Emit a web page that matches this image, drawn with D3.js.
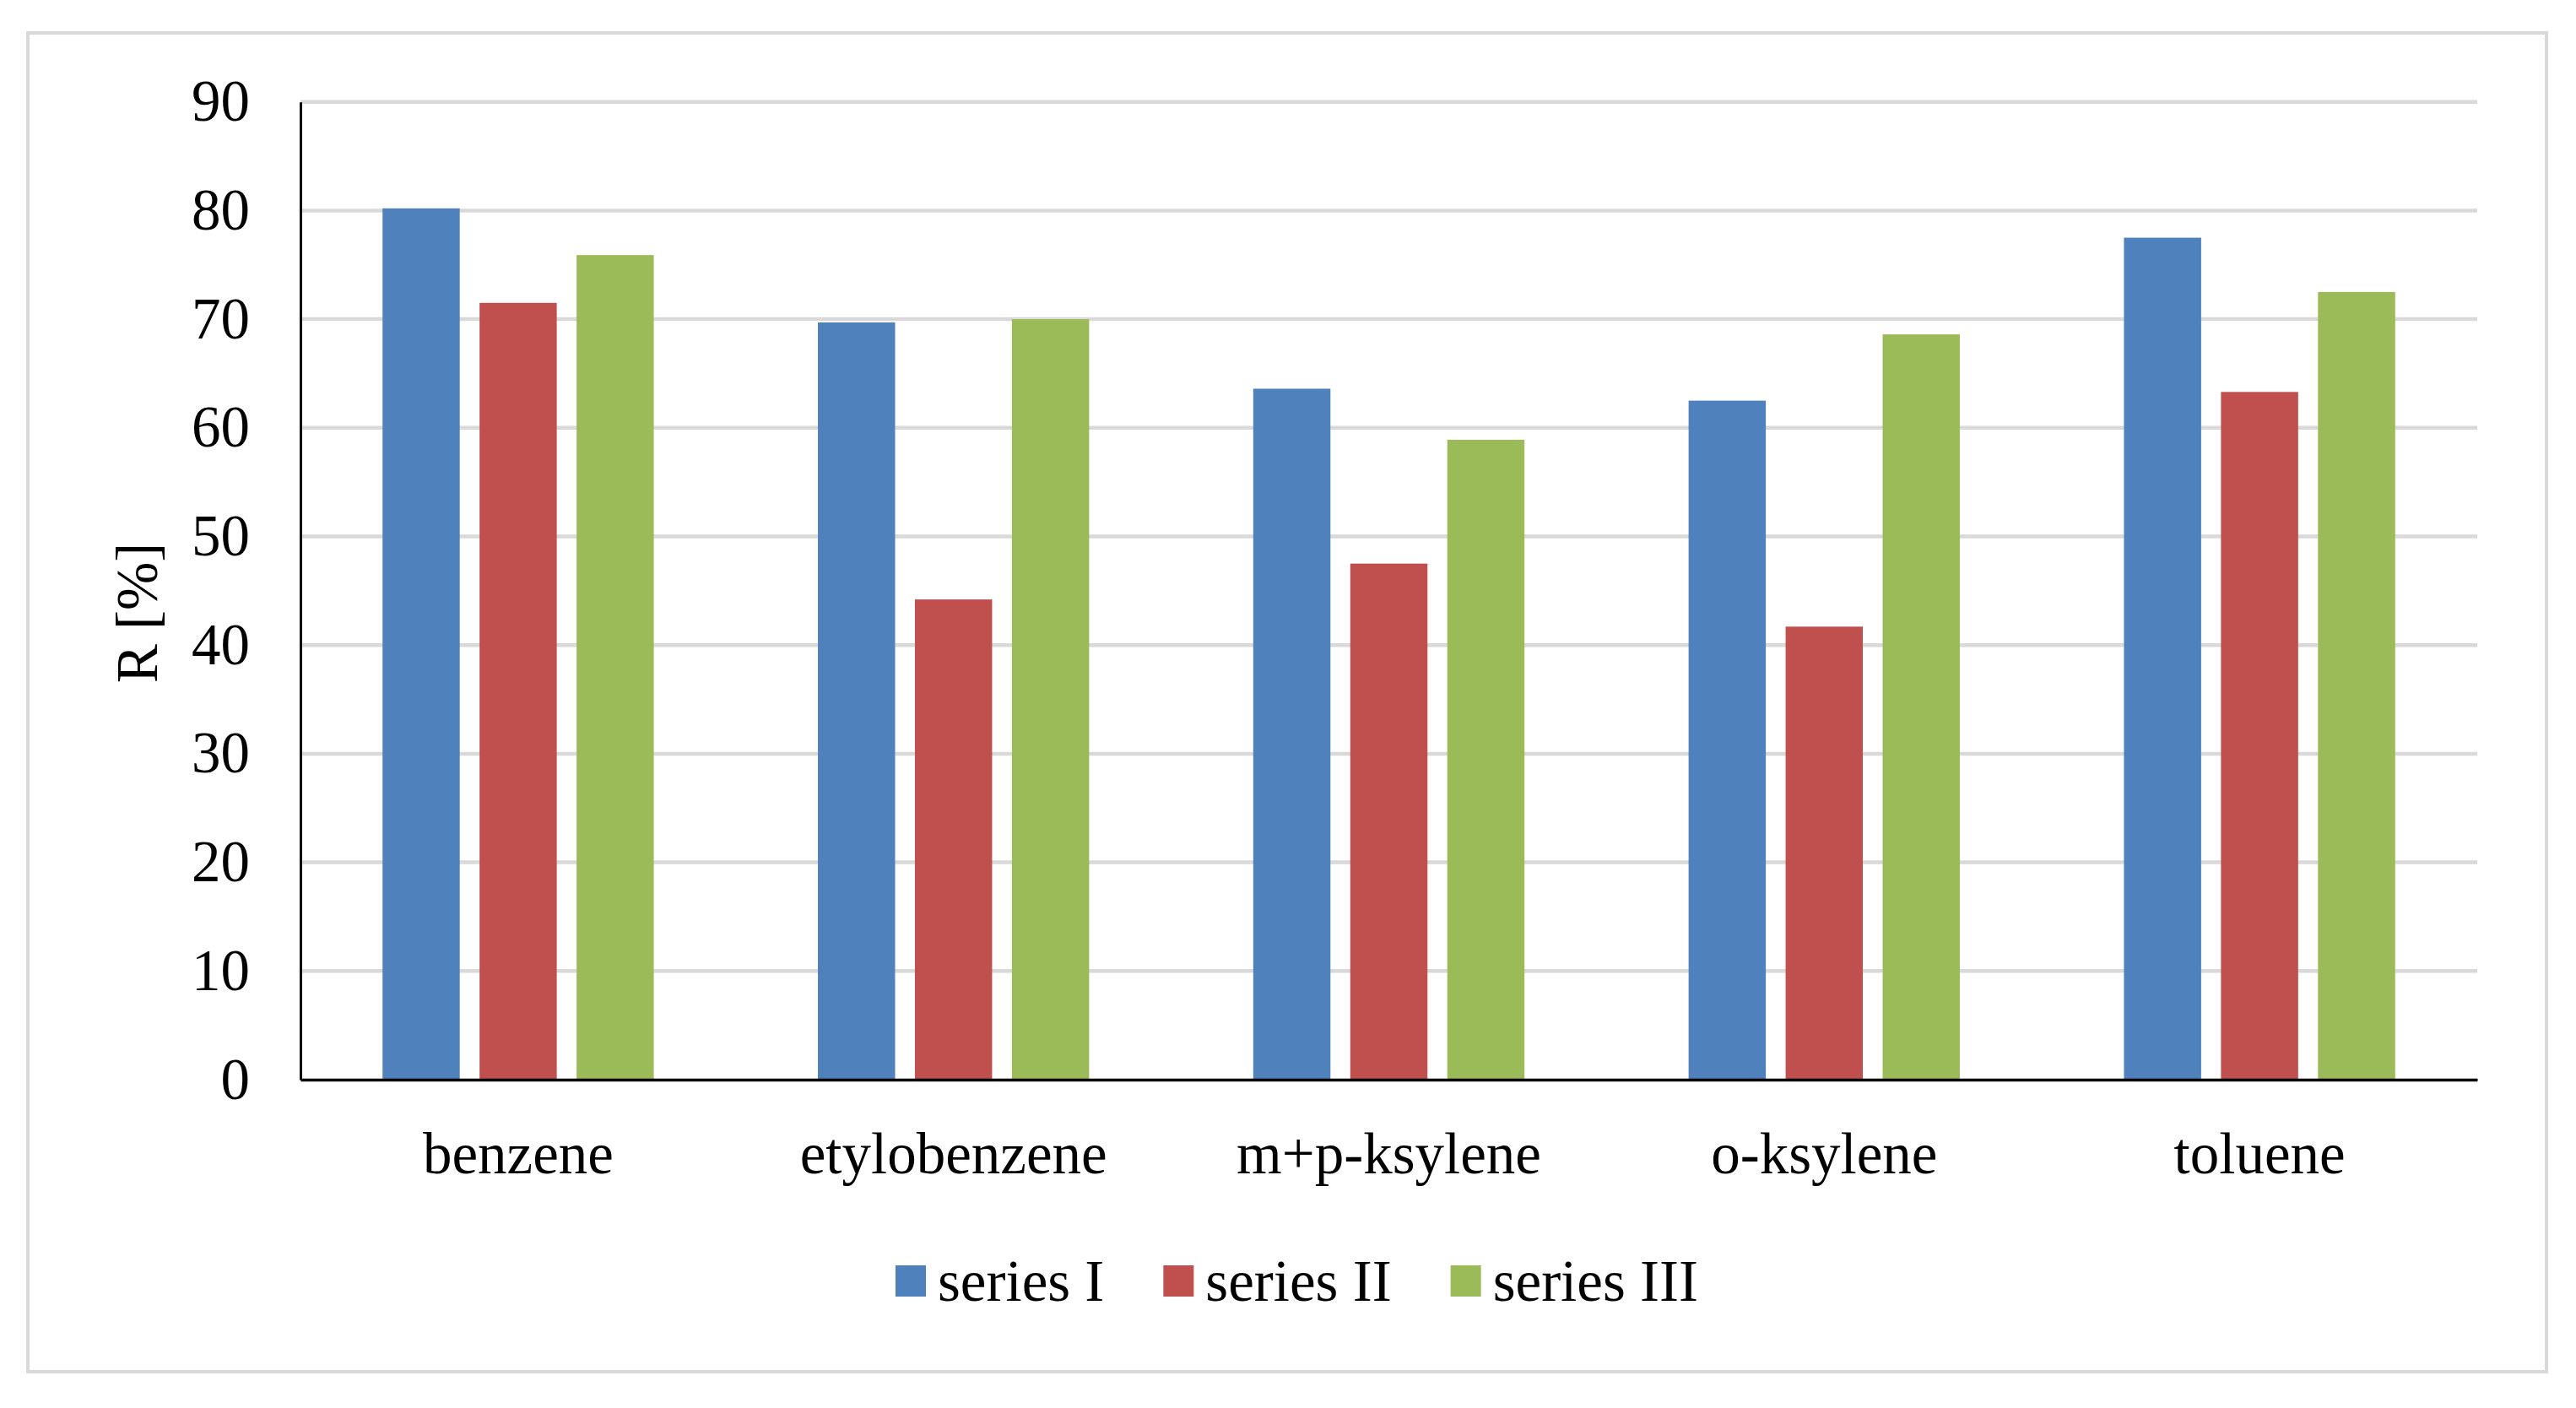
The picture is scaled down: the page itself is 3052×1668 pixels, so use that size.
<!DOCTYPE html>
<html>
<head>
<meta charset="utf-8">
<script src="https://cdn.jsdelivr.net/npm/d3@7"></script>
<style>
  html, body { margin: 0; padding: 0; background: #ffffff; }
  svg { display: block; }
  text { font-family: "Liberation Serif", "Times New Roman", serif; fill: #000; }
</style>
</head>
<body>
<svg id="chart" width="3052" height="1668"></svg>
<script>
// ---- data ----
const categories = ["benzene", "etylobenzene", "m+p-ksylene", "o-ksylene", "toluene"];
const seriesNames = ["series I", "series II", "series III"];
const seriesI   = [80.2, 69.7, 63.6, 62.5, 77.5];
const seriesII  = [71.5, 44.2, 47.5, 41.7, 63.3];
const seriesIII = [75.9, 70.0, 58.9, 68.6, 72.5];
const yTicks = [0, 10, 20, 30, 40, 50, 60, 70, 80, 90];
const yTitle = "R [%]";
const colors = ["#4F81BD", "#C0504D", "#9BBB59"];

const seriesValues = [seriesI, seriesII, seriesIII];

// ---- layout ----
const W = 3052, H = 1668;
const plot = { left: 356, right: 2935, top: 120.7, bottom: 1279 };

const svg = d3.select("#chart");

// outer frame
svg.append("rect")
  .attr("x", 33).attr("y", 39)
  .attr("width", 3017 - 33).attr("height", 1625 - 39)
  .attr("fill", "#ffffff")
  .attr("stroke", "#d9d9d9").attr("stroke-width", 4);

const y = d3.scaleLinear().domain([0, 90]).range([plot.bottom, plot.top]);
const x0 = d3.scaleBand().domain(categories).range([plot.left, plot.right]).paddingInner(0).paddingOuter(0);
const bw = x0.bandwidth();
const groupOffset = bw * 0.1885;
const x1 = d3.scaleBand().domain(seriesNames).range([groupOffset, bw - groupOffset]).paddingInner(0.2043).paddingOuter(0);

// gridlines
svg.append("g").selectAll("line")
  .data(yTicks.filter(d => d > 0))
  .join("line")
  .attr("x1", plot.left).attr("x2", plot.right)
  .attr("y1", d => y(d)).attr("y2", d => y(d))
  .attr("stroke", "#d9d9d9").attr("stroke-width", 4.5);

// bars
const groups = svg.append("g").selectAll("g")
  .data(categories)
  .join("g")
  .attr("transform", d => `translate(${x0(d)},0)`);

groups.selectAll("rect")
  .data((c, i) => seriesNames.map((s, j) => ({ s, j, v: seriesValues[j][i] })))
  .join("rect")
  .attr("x", d => x1(d.s))
  .attr("width", x1.bandwidth())
  .attr("y", d => y(d.v))
  .attr("height", d => y(0) - y(d.v))
  .attr("fill", d => colors[d.j]);

// y axis
const yAxis = svg.append("g")
  .attr("transform", `translate(${plot.left},0)`)
  .call(d3.axisLeft(y).tickValues(yTicks).tickSize(0).tickSizeOuter(0).tickPadding(60));
yAxis.select(".domain").attr("stroke", "#000").attr("stroke-width", 3);
yAxis.selectAll("text").attr("font-size", 69).attr("font-family", '"Liberation Serif", serif').attr("fill", "#000");

// x axis
const xAxis = svg.append("g")
  .attr("transform", `translate(0,${plot.bottom})`)
  .call(d3.axisBottom(x0).tickSize(0).tickSizeOuter(0).tickPadding(62));
xAxis.select(".domain").attr("stroke", "#000").attr("stroke-width", 3.5);
xAxis.selectAll("text").attr("font-size", 69).attr("font-family", '"Liberation Serif", serif').attr("fill", "#000");

// y title
svg.append("text")
  .attr("transform", "translate(186,726) rotate(-90)")
  .attr("text-anchor", "middle")
  .attr("font-size", 69)
  .text(yTitle);

// legend
const legend = svg.append("g");
let lx = 1061;
seriesNames.forEach((name, i) => {
  legend.append("rect")
    .attr("x", lx).attr("y", 1499)
    .attr("width", 36).attr("height", 37)
    .attr("fill", colors[i]);
  const t = legend.append("text")
    .attr("x", lx + 50).attr("y", 1541)
    .attr("font-size", 69)
    .text(name);
  const tw = t.node().getComputedTextLength();
  lx = lx + 50 + tw + 70;
});
</script>
</body>
</html>
